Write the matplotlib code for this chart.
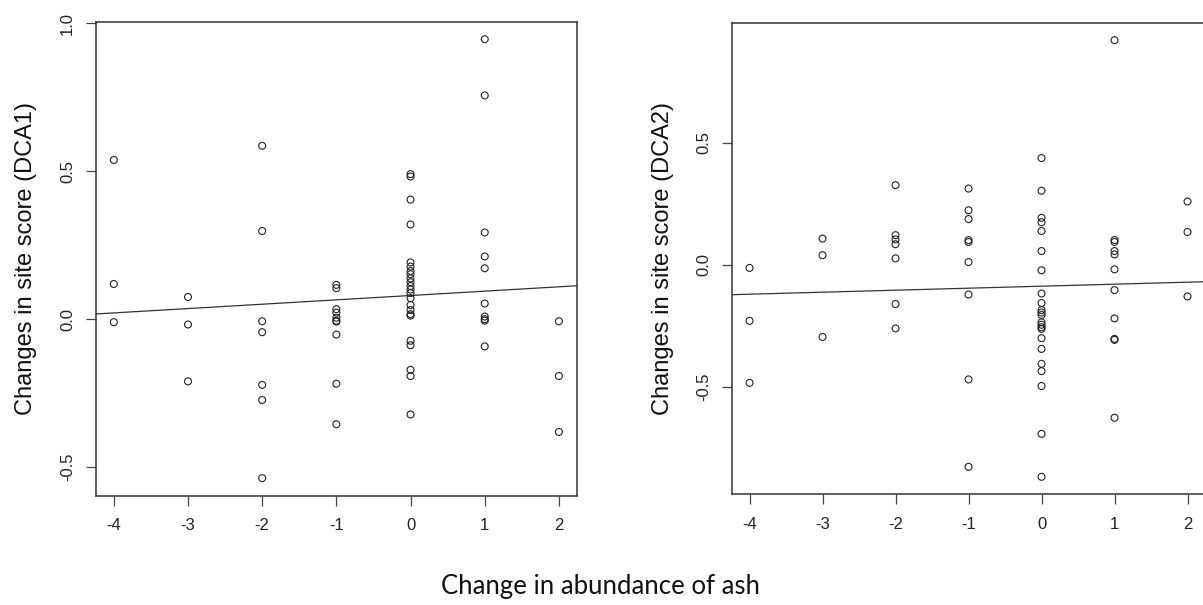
import matplotlib
matplotlib.use('Agg')
import matplotlib.pyplot as plt
import numpy as np

# change in abundance of ash (x) vs change in DCA site scores
dca1_x = [-4]*3 + [-3]*3 + [-2]*7 + [-1]*10 + [0]*23 + [1]*10 + [2]*3
dca1_y = [0.538, 0.119, -0.010,
          0.075, -0.018, -0.210,
          0.586, 0.298, -0.007, -0.044, -0.222, -0.273, -0.537,
          0.116, 0.105, 0.034, 0.022, 0.005, -0.005, -0.008, -0.052, -0.218, -0.355,
          0.490, 0.482, 0.404, 0.320, 0.192, 0.178, 0.163, 0.152, 0.138, 0.125, 0.112,
          0.100, 0.088, 0.071, 0.048, 0.031, 0.017, 0.012, -0.073, -0.088, -0.171, -0.192, -0.322,
          0.946, 0.756, 0.293, 0.212, 0.172, 0.053, 0.009, 0.000, -0.005, -0.092,
          -0.007, -0.192, -0.381]

dca2_x = [-4]*3 + [-3]*3 + [-2]*7 + [-1]*9 + [0]*23 + [1]*11 + [2]*3
dca2_y = [-0.012, -0.229, -0.483,
          0.108, 0.040, -0.295,
          0.327, 0.122, 0.105, 0.085, 0.027, -0.160, -0.260,
          0.313, 0.224, 0.188, 0.102, 0.094, 0.012, -0.121, -0.469, -0.827,
          0.438, 0.304, 0.193, 0.175, 0.139, 0.057, -0.022, -0.117, -0.156, -0.185, -0.195,
          -0.205, -0.235, -0.245, -0.255, -0.262, -0.300, -0.344, -0.405, -0.435, -0.496, -0.692, -0.868,
          0.921, 0.102, 0.094, 0.057, 0.043, -0.018, -0.103, -0.219, -0.303, -0.307, -0.626,
          0.260, 0.135, -0.129]

# fitted lines (intercept, slope)
fit1 = [0.080, 0.0147]
fit2 = [-0.087, 0.0082]

x_ticks = [-4, -3, -2, -1, 0, 1, 2]
y1_ticks = [-0.5, 0.0, 0.5, 1.0]
y2_ticks = [-0.5, 0.0, 0.5]

plt.rcParams['font.family'] = ['Liberation Sans', 'DejaVu Sans']

fig = plt.figure(figsize=(12.03, 6.05), dpi=100)
ax1 = fig.add_axes([0.0798, 0.1807, 0.3996, 0.7835])
ax2 = fig.add_axes([0.6085, 0.1830, 0.3932, 0.7795])


def panel(ax, xs, ys, fit, yticks, ylabel):
    ys = np.array(ys)
    r = ys.max() - ys.min()
    ax.set_ylim(ys.min() - 0.04 * r, ys.max() + 0.04 * r)
    ax.set_xlim(-4.24, 2.24)
    ax.scatter(xs, ys, s=25, facecolors='none', edgecolors='#222222', linewidths=0.8, zorder=3)
    xl = np.array(ax.get_xlim())
    ax.plot(xl, fit[0] + fit[1] * xl, color='#333333', lw=0.9)
    ax.set_xticks(x_ticks)
    ax.set_xticklabels([str(t) for t in x_ticks])
    ax.set_yticks(yticks)
    ax.set_yticklabels(['%.1f' % t for t in yticks], rotation=90, va='center')
    ax.tick_params(length=7, width=0.9, color='#444444', labelsize=12, labelcolor='#222222')
    ax.tick_params(axis='x', pad=9)
    ax.tick_params(axis='y', pad=8)
    for sp in ax.spines.values():
        sp.set_color('#333333')
        sp.set_linewidth(1.1)
    ax.set_ylabel(ylabel, fontsize=17, color='#111111')
    ax.yaxis.set_label_coords(-0.122, 0.5)


panel(ax1, dca1_x, dca1_y, fit1, y1_ticks, 'Changes in site score (DCA1)')
panel(ax2, dca2_x, dca2_y, fit2, y2_ticks, 'Changes in site score (DCA2)')

fig.text(0.499, 0.010, 'Change in abundance of ash', ha='center', va='bottom',
         fontsize=18.5, family=['Lato', 'DejaVu Sans'], color='#111111')

fig.savefig('out.png', dpi=100)
